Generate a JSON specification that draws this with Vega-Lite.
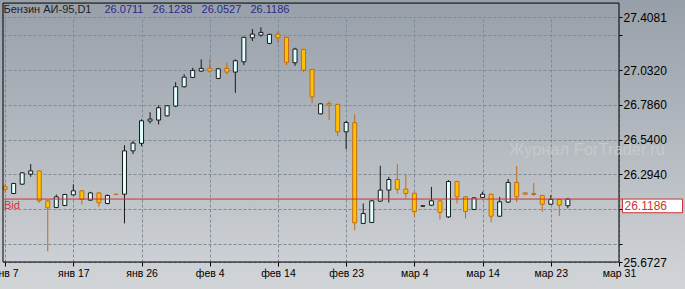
{
  "$schema": "https://vega.github.io/schema/vega-lite/v6.json",
  "width": 685,
  "height": 289,
  "autosize": {"type": "none"},
  "padding": 0,
  "background": "#b5bac0",
  "config": {
    "font": "Liberation Sans",
    "view": {
      "stroke": null,
      "fill": {"gradient": "linear", "x1": 0, "y1": 0, "x2": 0, "y2": 1,
        "stops": [{"offset": 0, "color": "#979fa9"}, {"offset": 1, "color": "#d2d5d8"}]}
    },
    "axis": {"labelFont": "Liberation Sans", "titleFont": "Liberation Sans"},
    "text": {"font": "Liberation Sans"}
  },
  "datasets": {
    "bars": [
      {"i": 0, "o": 26.205, "h": 26.229, "l": 26.162, "c": 26.187},
      {"i": 1, "o": 26.158, "h": 26.233, "l": 26.153, "c": 26.229},
      {"i": 2, "o": 26.224, "h": 26.309, "l": 26.219, "c": 26.304},
      {"i": 3, "o": 26.295, "h": 26.366, "l": 26.276, "c": 26.318},
      {"i": 4, "o": 26.318, "h": 26.323, "l": 26.092, "c": 26.106},
      {"i": 5, "o": 26.106, "h": 26.111, "l": 25.749, "c": 26.056},
      {"i": 6, "o": 26.059, "h": 26.151, "l": 26.054, "c": 26.134},
      {"i": 7, "o": 26.073, "h": 26.155, "l": 26.068, "c": 26.151},
      {"i": 8, "o": 26.148, "h": 26.222, "l": 26.144, "c": 26.177},
      {"i": 9, "o": 26.177, "h": 26.182, "l": 26.080, "c": 26.116},
      {"i": 10, "o": 26.111, "h": 26.170, "l": 26.106, "c": 26.162},
      {"i": 11, "o": 26.162, "h": 26.167, "l": 26.063, "c": 26.092},
      {"i": 12, "o": 26.087, "h": 26.151, "l": 26.082, "c": 26.144},
      {"i": 13, "o": 26.153, "h": 26.155, "l": 26.148, "c": 26.151},
      {"i": 14, "o": 26.153, "h": 26.500, "l": 25.946, "c": 26.460},
      {"i": 15, "o": 26.460, "h": 26.531, "l": 26.437, "c": 26.515},
      {"i": 16, "o": 26.513, "h": 26.683, "l": 26.493, "c": 26.673},
      {"i": 17, "o": 26.671, "h": 26.734, "l": 26.654, "c": 26.685},
      {"i": 18, "o": 26.678, "h": 26.782, "l": 26.647, "c": 26.765},
      {"i": 19, "o": 26.708, "h": 26.784, "l": 26.704, "c": 26.779},
      {"i": 20, "o": 26.777, "h": 26.947, "l": 26.770, "c": 26.914},
      {"i": 21, "o": 26.914, "h": 27.002, "l": 26.909, "c": 26.982},
      {"i": 22, "o": 26.980, "h": 27.048, "l": 26.975, "c": 27.030},
      {"i": 23, "o": 27.025, "h": 27.108, "l": 27.020, "c": 27.044},
      {"i": 24, "o": 27.044, "h": 27.115, "l": 27.013, "c": 27.025},
      {"i": 25, "o": 26.973, "h": 27.046, "l": 26.968, "c": 27.041},
      {"i": 26, "o": 27.044, "h": 27.084, "l": 27.002, "c": 27.018},
      {"i": 27, "o": 27.018, "h": 27.108, "l": 26.871, "c": 27.098},
      {"i": 28, "o": 27.091, "h": 27.268, "l": 27.067, "c": 27.264},
      {"i": 29, "o": 27.261, "h": 27.323, "l": 27.238, "c": 27.287},
      {"i": 30, "o": 27.280, "h": 27.335, "l": 27.268, "c": 27.299},
      {"i": 31, "o": 27.221, "h": 27.289, "l": 27.216, "c": 27.285},
      {"i": 32, "o": 27.287, "h": 27.303, "l": 27.226, "c": 27.261},
      {"i": 33, "o": 27.264, "h": 27.268, "l": 27.067, "c": 27.087},
      {"i": 34, "o": 27.084, "h": 27.190, "l": 27.062, "c": 27.181},
      {"i": 35, "o": 27.179, "h": 27.183, "l": 27.016, "c": 27.032},
      {"i": 36, "o": 27.037, "h": 27.039, "l": 26.796, "c": 26.843},
      {"i": 37, "o": 26.722, "h": 26.798, "l": 26.718, "c": 26.793},
      {"i": 38, "o": 26.796, "h": 26.812, "l": 26.678, "c": 26.784},
      {"i": 39, "o": 26.789, "h": 26.793, "l": 26.564, "c": 26.595},
      {"i": 40, "o": 26.595, "h": 26.671, "l": 26.472, "c": 26.661},
      {"i": 41, "o": 26.659, "h": 26.718, "l": 25.898, "c": 25.950},
      {"i": 42, "o": 25.946, "h": 26.087, "l": 25.941, "c": 26.016},
      {"i": 43, "o": 25.953, "h": 26.111, "l": 25.948, "c": 26.106},
      {"i": 44, "o": 26.104, "h": 26.354, "l": 26.099, "c": 26.182},
      {"i": 45, "o": 26.182, "h": 26.276, "l": 26.094, "c": 26.257},
      {"i": 46, "o": 26.257, "h": 26.366, "l": 26.158, "c": 26.187},
      {"i": 47, "o": 26.189, "h": 26.293, "l": 26.123, "c": 26.158},
      {"i": 48, "o": 26.160, "h": 26.165, "l": 25.992, "c": 26.031},
      {"i": 49, "o": 26.068, "h": 26.073, "l": 26.066, "c": 26.071},
      {"i": 50, "o": 26.075, "h": 26.205, "l": 26.070, "c": 26.106},
      {"i": 51, "o": 26.106, "h": 26.111, "l": 25.974, "c": 26.024},
      {"i": 52, "o": 25.992, "h": 26.252, "l": 25.985, "c": 26.243},
      {"i": 53, "o": 26.243, "h": 26.248, "l": 26.087, "c": 26.134},
      {"i": 54, "o": 26.134, "h": 26.139, "l": 25.981, "c": 26.031},
      {"i": 55, "o": 26.045, "h": 26.132, "l": 26.040, "c": 26.127},
      {"i": 56, "o": 26.130, "h": 26.170, "l": 26.125, "c": 26.153},
      {"i": 57, "o": 26.153, "h": 26.158, "l": 25.953, "c": 25.997},
      {"i": 58, "o": 25.997, "h": 26.134, "l": 25.992, "c": 26.099},
      {"i": 59, "o": 26.097, "h": 26.260, "l": 26.092, "c": 26.236},
      {"i": 60, "o": 26.236, "h": 26.352, "l": 26.097, "c": 26.134},
      {"i": 61, "o": 26.162, "h": 26.167, "l": 26.148, "c": 26.153},
      {"i": 62, "o": 26.158, "h": 26.233, "l": 26.141, "c": 26.151},
      {"i": 63, "o": 26.144, "h": 26.148, "l": 26.028, "c": 26.082},
      {"i": 64, "o": 26.082, "h": 26.146, "l": 26.077, "c": 26.116},
      {"i": 65, "o": 26.116, "h": 26.120, "l": 25.999, "c": 26.075},
      {"i": 66, "o": 26.0711, "h": 26.1238, "l": 26.0527, "c": 26.1186}
    ],
    "bid": [{"bid": 26.1186}]
  },
  "data": {"name": "bars"},
  "resolve": {"axis": {"x": "independent", "y": "independent"}},
  "layer": [
    {
      "mark": {"type": "rule", "strokeWidth": 1},
      "encoding": {
        "x": {"field": "i", "type": "quantitative",
          "scale": {"domain": [-0.25, 72], "range": [3, 619], "nice": false, "zero": false, "padding": 0},
          "axis": {"orient": "top", "values": [0, 8, 16, 24, 32, 40, 48, 56, 64, 72], "grid": true, "domain": false, "ticks": false, "labels": false, "title": null,
            "gridColor": "#7d8b99", "gridDash": [3, 2], "gridWidth": 1, "gridOpacity": 1}},
        "y": {"field": "l", "type": "quantitative",
          "scale": {"domain": [25.6727, 27.4081], "range": [262, 17], "nice": false, "zero": false, "padding": 0},
          "axis": {"orient": "left", "values": [27.4081, 27.278, 27.032, 26.786, 26.54, 26.294, 26.048, 25.802, 25.6727], "grid": true, "domain": false, "ticks": false, "labels": false, "title": null,
            "gridColor": "#7d8b99", "gridDash": [3, 2], "gridWidth": 1, "gridOpacity": 1}},
        "y2": {"field": "h"},
        "stroke": {"condition": {"test": "datum.c >= datum.o", "value": "#1a1a1a"}, "value": "#bf6d1a"}
      }
    },
    {
      "mark": {"type": "bar", "size": 4, "strokeWidth": 1},
      "encoding": {
        "x": {"field": "i", "type": "quantitative",
          "axis": {"orient": "bottom", "offset": -27, "values": [0, 8, 16, 24, 32, 40, 48, 56, 64, 72], "grid": false, "domain": false, "ticks": true, "tickSize": 4, "tickColor": "#000000", "tickWidth": 1,
            "labelExpr": "['янв 7','янв 17','янв 26','фев 4','фев 14','фев 23','мар 4','мар 14','мар 23','мар 31'][round(datum.value/8)]",
            "labelFlush": false, "labelOverlap": false, "labelPadding": 2, "labelFontSize": 10.5, "labelColor": "#000000", "title": null}},
        "y": {"field": "o", "type": "quantitative",
          "axis": {"orient": "right", "offset": -66, "values": [27.4081, 27.278, 27.032, 26.786, 26.54, 26.294, 26.048, 25.802, 25.6727], "grid": false, "domain": false, "ticks": true, "tickSize": 3, "tickColor": "#000000", "tickWidth": 1,
            "labelExpr": "(datum.value == 27.278 || datum.value == 26.048 || datum.value == 25.802) ? '' : format(datum.value, '.4f')",
            "labelOverlap": false, "labelFlush": false, "labelPadding": 1, "labelFontSize": 12, "labelColor": "#000000", "title": null}},
        "y2": {"field": "c"},
        "fill": {"condition": {"test": "datum.c >= datum.o", "value": "#e0ffff"}, "value": "#ffc000"},
        "stroke": {"condition": {"test": "datum.c >= datum.o", "value": "#1a1a1a"}, "value": "#bf6d1a"}
      }
    },
    {
      "data": {"values": [{}]},
      "mark": {"type": "rect", "fill": "transparent", "stroke": "#000000", "strokeWidth": 1},
      "encoding": {
        "x": {"datum": -0.25, "type": "quantitative", "axis": null},
        "x2": {"datum": 72},
        "y": {"datum": 25.6727, "type": "quantitative", "axis": null},
        "y2": {"datum": 27.5068}
      }
    },
    {
      "data": {"name": "bid"},
      "mark": {"type": "rule", "color": "#cc3333", "strokeWidth": 1},
      "encoding": {
        "x": {"datum": -0.25, "type": "quantitative", "axis": null},
        "x2": {"datum": 72.41},
        "y": {"field": "bid", "type": "quantitative", "axis": null}
      }
    },
    {
      "data": {"name": "bid"},
      "mark": {"type": "rect", "fill": "#ffffff", "stroke": "#cc3333", "strokeWidth": 1},
      "encoding": {
        "x": {"datum": 72.41, "type": "quantitative", "axis": null},
        "x2": {"datum": 79.45},
        "y": {"field": "bid", "type": "quantitative", "axis": null},
        "y2": {"datum": 26.0216}
      }
    },
    {
      "data": {"name": "bid"},
      "mark": {"type": "text", "align": "left", "baseline": "top", "dx": 2, "dy": 1.5, "fontSize": 12, "color": "#cc3333"},
      "encoding": {
        "x": {"datum": 72.41, "type": "quantitative", "axis": null},
        "y": {"field": "bid", "type": "quantitative", "axis": null},
        "text": {"field": "bid", "type": "quantitative", "format": ".4f"}
      }
    },
    {
      "data": {"name": "bid"},
      "mark": {"type": "text", "align": "left", "baseline": "top", "dx": 1, "dy": 1, "fontSize": 11, "color": "#cc3333", "text": "Bid"},
      "encoding": {
        "x": {"datum": -0.25, "type": "quantitative", "axis": null},
        "y": {"field": "bid", "type": "quantitative", "axis": null}
      }
    },
    {
      "data": {"values": [{}]},
      "mark": {"type": "text", "align": "left", "baseline": "alphabetic", "dx": 0.5, "fontSize": 11, "color": "#1e1e1e", "text": "Бензин АИ-95,D1"},
      "encoding": {
        "x": {"datum": -0.25, "type": "quantitative", "axis": null},
        "y": {"datum": 27.4386, "type": "quantitative", "axis": null}
      }
    },
    {
      "data": {"values": [{}]},
      "mark": {"type": "text", "align": "left", "baseline": "alphabetic", "dx": 101.5, "fontSize": 11, "color": "#2a2a8c", "text": "26.0711\u00a0\u00a0\u00a026.1238\u00a0\u00a0\u00a026.0527\u00a0\u00a0\u00a026.1186"},
      "encoding": {
        "x": {"datum": -0.25, "type": "quantitative", "axis": null},
        "y": {"datum": 27.4386, "type": "quantitative", "axis": null}
      }
    },
    {
      "data": {"values": [{}]},
      "mark": {"type": "text", "align": "left", "baseline": "alphabetic", "fontSize": 16.5, "color": "#c7c9cc", "text": "Журнал ForTrader.ru"},
      "encoding": {
        "x": {"datum": 59.1, "type": "quantitative", "axis": null},
        "y": {"datum": 26.4306, "type": "quantitative", "axis": null}
      }
    }
  ]
}
